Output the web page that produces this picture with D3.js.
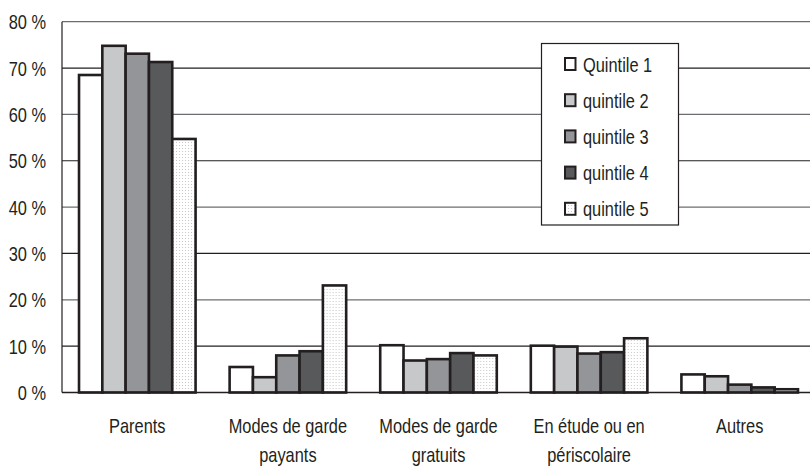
<!DOCTYPE html>
<html>
<head>
<meta charset="utf-8">
<script src="https://cdn.jsdelivr.net/npm/d3@7"></script>
<style>
  body { margin: 0; background: #fff; }
  text { font-family: "Liberation Sans", Arial, sans-serif; fill: #231f20; }
</style>
</head>
<body>
<div id="chart"></div>
<script>
// categories (two-line labels) and quintile series
var categories = ["Parents", "Modes de garde payants", "Modes de garde gratuits", "En étude ou en périscolaire", "Autres"];
var catLines = [["Parents"], ["Modes de garde", "payants"], ["Modes de garde", "gratuits"], ["En étude ou en", "périscolaire"], ["Autres"]];
var series = ["Quintile 1", "quintile 2", "quintile 3", "quintile 4", "quintile 5"];
var q1 = [68.5, 5.5, 10.2, 10.1, 3.9];
var q2 = [74.8, 3.3, 6.9, 9.9, 3.5];
var q3 = [73.1, 8.0, 7.2, 8.4, 1.7];
var q4 = [71.3, 8.9, 8.5, 8.7, 1.1];
var q5 = [54.7, 23.1, 8.0, 11.7, 0.7];
var yTicks = [0, 10, 20, 30, 40, 50, 60, 70, 80];

var values = [q1, q2, q3, q4, q5];
var fills = ["#ffffff", "#c7c8ca", "#939598", "#58595b", "url(#dots)"];

var width = 810, height = 467;
var svg = d3.select("#chart").append("svg")
    .attr("width", width)
    .attr("height", height);

// squeeze text horizontally (narrow font look)
function narrow(sel) {
  sel.each(function() {
    var len = this.getComputedTextLength();
    d3.select(this).attr("textLength", len * 0.78).attr("lengthAdjust", "spacingAndGlyphs");
  });
}

// dotted pattern for quintile 5
var pat = svg.append("defs").append("pattern")
    .attr("id", "dots")
    .attr("patternUnits", "userSpaceOnUse")
    .attr("width", 3).attr("height", 3);
pat.append("rect").attr("width", 3).attr("height", 3).attr("fill", "#fff");
pat.append("rect").attr("x", 1).attr("y", 1).attr("width", 1).attr("height", 1).attr("fill", "#c8c8c8");

var plotLeft = 62, plotRight = 815, plotTop = 21.7, plotBottom = 392.5;

var x = d3.scaleBand().domain(categories).range([plotLeft, plotRight])
    .paddingInner(0.226).paddingOuter(0.113);
var xs = d3.scaleBand().domain(series).range([0, x.bandwidth()]);
var y = d3.scaleLinear().domain([0, 80]).range([plotBottom, plotTop]);

// gridlines
svg.append("g").selectAll("line")
    .data(yTicks)
    .enter().append("line")
    .attr("x1", plotLeft).attr("x2", plotRight)
    .attr("y1", function(d) { return y(d); })
    .attr("y2", function(d) { return y(d); })
    .attr("stroke", function(d, i) { return i % 2 ? "#231f20" : "#6d6e71"; })
    .attr("stroke-width", 1.2);

// left axis line
svg.append("line")
    .attr("x1", plotLeft).attr("x2", plotLeft)
    .attr("y1", plotTop).attr("y2", plotBottom)
    .attr("stroke", "#231f20").attr("stroke-width", 1.2);

// y tick labels
svg.append("g").selectAll("text")
    .data(yTicks)
    .enter().append("text")
    .attr("x", 46)
    .attr("y", function(d) { return y(d); })
    .attr("dy", "0.36em")
    .attr("text-anchor", "end")
    .style("font-size", "21px")
    .text(function(d) { return d + " %"; })
    .call(narrow);

// bars
categories.forEach(function(c, ci) {
  var g = svg.append("g").attr("transform", "translate(" + x(c) + ",0)");
  g.selectAll("rect")
    .data(series)
    .enter().append("rect")
    .attr("x", function(s) { return xs(s); })
    .attr("y", function(s, si) { return y(values[si][ci]); })
    .attr("width", xs.bandwidth())
    .attr("height", function(s, si) { return y(0) - y(values[si][ci]); })
    .attr("fill", function(s, si) { return fills[si]; })
    .attr("stroke", "#231f20")
    .attr("stroke-width", 2.6);
});

// baseline redraw
svg.append("line")
    .attr("x1", plotLeft).attr("x2", plotRight)
    .attr("y1", y(0)).attr("y2", y(0))
    .attr("stroke", "#231f20").attr("stroke-width", 1.5);

// category labels
categories.forEach(function(c, ci) {
  catLines[ci].forEach(function(line, li) {
    svg.append("text")
      .attr("x", x(c) + x.bandwidth() / 2)
      .attr("y", 433 + li * 29)
      .attr("text-anchor", "middle")
      .style("font-size", "21px")
      .text(line)
      .call(narrow);
  });
});

// legend
var legend = svg.append("g");
legend.append("rect")
    .attr("x", 541.5).attr("y", 43.5)
    .attr("width", 137).attr("height", 181.5)
    .attr("fill", "#fff").attr("stroke", "#231f20").attr("stroke-width", 1.2);
series.forEach(function(s, si) {
  var cy = 64 + si * 36.2;
  legend.append("rect")
    .attr("x", 565).attr("y", cy - 6)
    .attr("width", 10.5).attr("height", 12)
    .attr("fill", fills[si])
    .attr("stroke", "#231f20").attr("stroke-width", 2);
  legend.append("text")
    .attr("x", 583).attr("y", cy)
    .attr("dy", "0.36em")
    .style("font-size", "21px")
    .text(s)
    .call(narrow);
});
</script>
</body>
</html>
